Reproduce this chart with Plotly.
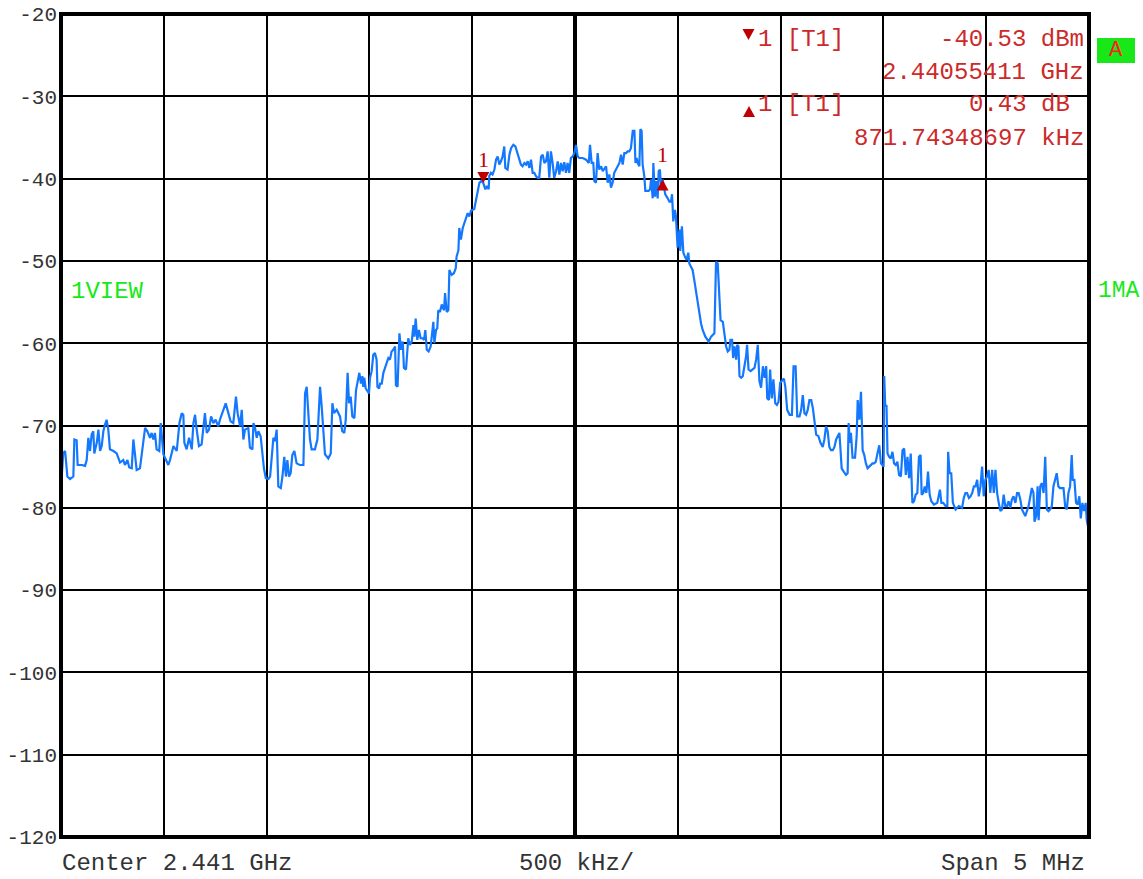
import plotly.graph_objects as go

# ---------------- data ----------------
CENTER_MHZ = 2441.0
SPAN_MHZ = 5.0
DIV_MHZ = 0.5

y_tick_values = [-20, -30, -40, -50, -60, -70, -80, -90, -100, -110, -120]
y_tick_labels = ["-20", "-30", "-40", "-50", "-60", "-70", "-80", "-90", "-100", "-110", "-120"]

# trace points: (offset from centre in kHz, level in dBm)
left_floor = [
    (-2497, -76.4), (-2489, -73.3), (-2480, -73.1), (-2469, -76.2), (-2456, -76.5), (-2440, -76.2),
    (-2435, -71.7), (-2424, -71.8), (-2419, -74.8), (-2399, -74.8), (-2383, -74.9), (-2375, -74.2),
    (-2367, -71.5), (-2359, -73.1), (-2351, -71.1), (-2343, -70.7), (-2338, -73.4), (-2326, -72.1),
    (-2318, -70.5), (-2310, -73.1), (-2302, -72.5), (-2294, -70.7), (-2286, -69.9), (-2278, -69.3),
    (-2270, -70.5), (-2262, -72.9), (-2245, -73.1), (-2229, -73.4), (-2213, -74.5), (-2197, -74.2),
    (-2189, -74.8), (-2177, -74.2), (-2168, -75.1), (-2156, -75.2), (-2148, -71.7), (-2140, -74.0),
    (-2132, -75.4), (-2116, -75.2), (-2104, -72.5), (-2091, -70.3), (-2080, -70.7), (-2067, -71.5),
    (-2059, -70.9), (-2051, -71.7), (-2043, -70.9), (-2035, -72.9), (-2022, -73.1), (-2015, -69.7),
    (-2002, -73.5), (-1986, -74.4), (-1978, -74.8), (-1970, -74.2), (-1953, -72.5), (-1937, -73.1),
    (-1924, -69.7), (-1913, -68.5), (-1905, -68.7), (-1900, -72.1), (-1889, -72.9), (-1877, -71.5),
    (-1864, -72.9), (-1856, -69.7), (-1848, -68.7), (-1840, -70.5), (-1829, -72.5), (-1816, -72.3),
    (-1808, -70.7), (-1800, -68.5), (-1791, -70.9), (-1780, -70.5), (-1770, -68.9), (-1759, -69.7),
    (-1748, -69.3), (-1735, -70.1), (-1727, -69.3), (-1710, -67.9), (-1699, -67.3), (-1686, -68.5),
    (-1675, -69.5), (-1662, -69.7), (-1654, -68.1), (-1649, -66.5), (-1641, -68.5), (-1629, -70.1),
    (-1621, -68.1), (-1613, -71.7), (-1605, -70.5), (-1589, -70.3), (-1581, -72.7), (-1569, -72.9),
    (-1564, -69.7), (-1556, -70.3), (-1548, -71.5), (-1540, -70.7), (-1529, -71.3), (-1521, -73.1),
    (-1513, -75.2), (-1504, -76.4), (-1491, -76.5), (-1483, -76.2), (-1475, -74.2), (-1467, -71.5),
    (-1459, -71.9), (-1451, -70.5), (-1443, -77.4), (-1431, -77.6), (-1423, -76.2), (-1414, -73.8),
    (-1406, -76.2), (-1399, -74.2), (-1391, -76.2), (-1383, -75.8), (-1375, -73.6), (-1365, -73.1),
    (-1354, -74.6), (-1338, -74.8), (-1321, -74.8), (-1313, -66.1), (-1305, -65.3), (-1297, -68.5),
    (-1289, -71.7), (-1281, -72.9), (-1265, -72.9), (-1253, -71.7), (-1240, -65.3), (-1232, -67.7),
    (-1224, -70.9), (-1216, -73.5), (-1200, -74.0), (-1188, -73.4), (-1180, -67.3), (-1172, -68.5),
    (-1159, -68.1), (-1143, -68.9),
]

rising_edge = [
    (-1132, -70.7), (-1122, -70.9), (-1115, -69.3), (-1111, -66.5), (-1106, -63.6), (-1099, -67.3),
    (-1091, -66.5), (-1083, -68.9), (-1073, -69.1), (-1065, -65.7), (-1057, -64.4), (-1049, -63.6),
    (-1041, -64.9), (-1034, -64.0), (-1030, -65.3), (-1025, -64.2), (-1018, -65.5), (-1008, -65.9),
    (-1002, -66.1), (-997, -64.2), (-989, -63.4), (-981, -61.4), (-973, -61.2), (-965, -62.0),
    (-961, -65.3), (-953, -65.5), (-948, -64.9), (-940, -64.9), (-932, -63.6), (-924, -63.0),
    (-916, -62.4), (-908, -61.8), (-900, -62.0), (-892, -61.0), (-884, -60.8), (-875, -60.4),
    (-871, -65.1), (-863, -65.3), (-854, -58.8), (-846, -60.8), (-838, -59.8), (-832, -63.0),
    (-822, -63.2), (-815, -60.2), (-811, -59.4), (-803, -60.2), (-794, -59.8), (-786, -57.8),
    (-781, -59.2), (-775, -57.0), (-767, -59.6), (-759, -58.4), (-751, -59.4), (-741, -59.4),
    (-734, -59.6), (-728, -58.4), (-721, -60.8), (-712, -61.0), (-702, -60.4), (-694, -58.6),
    (-689, -57.4), (-684, -60.0), (-676, -58.4), (-670, -58.2), (-665, -56.0), (-657, -56.2),
    (-648, -55.3), (-637, -56.0), (-632, -53.9), (-624, -56.2), (-616, -56.0), (-611, -51.1),
    (-600, -51.7), (-589, -51.5), (-580, -50.9), (-576, -49.5), (-567, -48.7),
]

main_lobe = [
    (-563, -46.0), (-555, -47.4), (-546, -46.0), (-538, -45.4), (-530, -45.0), (-522, -44.2),
    (-514, -44.6), (-506, -43.9), (-490, -43.7), (-482, -42.6), (-473, -41.3), (-465, -40.5),
    (-456, -40.3), (-446, -40.53), (-436, -41.3), (-428, -40.9), (-420, -41.3), (-417, -39.7),
    (-409, -39.3), (-401, -39.5), (-392, -38.9), (-384, -37.7), (-376, -37.3), (-368, -38.3),
    (-360, -37.9), (-352, -37.3), (-344, -36.1), (-339, -38.7), (-328, -38.9), (-319, -37.1),
    (-311, -36.3), (-300, -35.9), (-290, -36.1), (-279, -36.9), (-271, -37.5), (-263, -38.3),
    (-255, -38.5), (-246, -38.1), (-238, -38.3), (-230, -37.9), (-222, -38.7), (-214, -37.7),
    (-206, -39.3), (-198, -39.3), (-190, -39.7), (-182, -39.9), (-174, -39.9), (-165, -37.3),
    (-157, -37.1), (-149, -38.1), (-141, -37.9), (-133, -36.7), (-125, -39.9), (-117, -36.7),
    (-109, -38.1), (-101, -39.9), (-92, -39.1), (-84, -37.9), (-76, -39.5), (-68, -38.1),
    (-60, -39.1), (-52, -38.0), (-44, -39.3), (-36, -38.1), (-28, -39.3), (-20, -37.5),
    (-11, -37.3), (-3, -36.9), (5, -35.9), (13, -37.3), (21, -37.5), (37, -37.5),
    (54, -37.7), (67, -38.1), (73, -35.9), (81, -38.1), (89, -38.1), (94, -40.3),
    (102, -40.5), (110, -36.9), (118, -38.9), (127, -38.5), (135, -39.1), (143, -38.7),
    (151, -38.5), (159, -40.5), (167, -39.5), (175, -41.1), (183, -40.5), (191, -39.3),
    (199, -38.9), (208, -38.3), (216, -38.1), (224, -37.1), (232, -38.3), (240, -36.9),
    (248, -36.9), (256, -36.7), (264, -36.7), (272, -36.3), (281, -34.2), (289, -34.2),
    (294, -38.1), (300, -37.5), (305, -38.1), (313, -38.5), (318, -34.0), (324, -34.2),
    (329, -38.3), (337, -39.7), (342, -41.5), (350, -41.5), (358, -41.5), (365, -41.3),
    (370, -40.1), (378, -42.4), (381, -38.1), (389, -42.2), (394, -40.3), (402, -42.4),
    (407, -39.1), (413, -38.9), (418, -40.9), (426, -40.10), (439, -41.9), (451, -42.4),
    (459, -42.8), (467, -42.8), (472, -41.9), (478, -45.2), (486, -43.8), (491, -44.6),
    (499, -48.4), (508, -46.2), (512, -48.8), (520, -45.8), (527, -49.0), (535, -49.5),
    (543, -49.9), (551, -49.0), (556, -50.3), (564, -50.7), (572, -51.1), (580, -52.3),
    (589, -53.9), (597, -55.1), (605, -56.3), (613, -57.6), (621, -58.4), (634, -59.2),
    (650, -59.8), (662, -59.2), (678, -58.8), (686, -50.1), (694, -50.3),
]

falling_edge = [
    (708, -57.2), (719, -57.4), (727, -58.8), (735, -60.4), (743, -61.0), (751, -60.8),
    (756, -59.6), (764, -59.6), (769, -61.8), (776, -60.4), (784, -62.0), (789, -60.2),
    (795, -60.4), (800, -64.0), (808, -64.2), (816, -64.0), (824, -62.8), (832, -61.6),
    (837, -60.2), (844, -63.2), (854, -63.4), (865, -63.2), (873, -63.0), (881, -62.0),
    (889, -60.2), (897, -64.6), (905, -65.4), (914, -62.8), (922, -64.2), (930, -62.8),
    (935, -66.7), (943, -66.9), (949, -63.2), (957, -66.7), (965, -64.4), (974, -67.3),
    (982, -67.5), (990, -67.1), (998, -64.8),
]

right_floor = [
    (1016, -64.3), (1023, -65.3), (1032, -68.1), (1044, -68.7), (1055, -68.7), (1063, -62.8),
    (1073, -62.8), (1081, -68.9), (1092, -68.9), (1100, -68.1), (1108, -66.3), (1116, -68.5),
    (1124, -68.7), (1132, -68.1), (1140, -66.9), (1149, -66.9), (1157, -67.9), (1165, -69.5),
    (1173, -71.1), (1184, -71.3), (1194, -72.1), (1205, -72.6), (1213, -71.7), (1221, -70.1),
    (1229, -70.7), (1237, -72.6), (1245, -73.0), (1254, -73.0), (1262, -72.6), (1270, -71.7),
    (1278, -71.3), (1286, -70.9), (1291, -72.8), (1297, -75.2), (1307, -75.6), (1318, -76.0),
    (1326, -75.8), (1331, -69.7), (1337, -72.1), (1342, -70.9), (1350, -73.9), (1362, -73.9),
    (1370, -71.3), (1375, -66.9), (1383, -69.3), (1391, -65.9), (1399, -73.0), (1407, -73.6),
    (1415, -74.6), (1423, -75.2), (1431, -75.0), (1439, -74.8), (1447, -74.6), (1455, -74.6),
    (1463, -74.4), (1471, -73.4), (1480, -72.4), (1488, -74.6), (1496, -74.8), (1501, -75.0),
    (1504, -64.0), (1509, -67.7), (1515, -67.5), (1520, -73.4), (1528, -73.8), (1536, -74.0),
    (1544, -73.2), (1552, -74.6), (1560, -74.8), (1568, -74.4), (1576, -76.0), (1585, -76.2),
    (1593, -73.0), (1601, -72.8), (1609, -76.0), (1617, -73.8), (1625, -76.4), (1633, -73.4),
    (1641, -79.4), (1649, -79.2), (1657, -78.4), (1665, -78.2), (1673, -73.8), (1681, -73.6),
    (1686, -78.4), (1694, -78.2), (1701, -77.4), (1709, -78.2), (1717, -75.6), (1725, -78.4),
    (1733, -79.2), (1746, -79.6), (1762, -79.4), (1770, -78.2), (1775, -77.8), (1782, -79.4),
    (1791, -79.4), (1803, -79.8), (1811, -79.8), (1815, -73.2), (1822, -75.8), (1830, -75.8),
    (1838, -79.4), (1851, -80.2), (1867, -79.8), (1883, -80.0), (1891, -78.8), (1899, -78.2),
    (1907, -78.2), (1916, -78.8), (1924, -78.6), (1932, -78.2), (1940, -77.4), (1948, -77.4),
    (1956, -76.6), (1964, -78.6), (1972, -77.4), (1980, -75.0), (1988, -78.6), (1996, -76.6),
    (2004, -76.2), (2012, -75.4), (2020, -78.2), (2029, -75.4), (2037, -78.2), (2045, -75.4),
    (2053, -78.2), (2061, -79.4), (2069, -80.4), (2077, -80.2), (2085, -78.4), (2093, -79.8),
    (2101, -79.8), (2109, -79.2), (2117, -80.0), (2125, -79.0), (2133, -78.6), (2142, -79.4),
    (2150, -78.2), (2158, -78.2), (2166, -79.0), (2174, -80.2), (2190, -81.0), (2206, -79.8),
    (2214, -78.4), (2222, -77.6), (2230, -78.2), (2235, -81.7), (2243, -81.0), (2250, -77.4),
    (2255, -81.5), (2263, -77.4), (2271, -77.0), (2279, -78.2), (2287, -73.8), (2295, -80.2),
    (2303, -80.4), (2311, -80.2), (2319, -79.8), (2327, -77.4), (2335, -76.6), (2343, -75.8),
    (2351, -77.4), (2359, -77.6), (2368, -77.6), (2376, -77.6), (2384, -79.8), (2392, -80.2),
    (2400, -78.2), (2408, -77.4), (2416, -73.6), (2421, -76.6), (2429, -76.6), (2437, -79.4),
    (2445, -79.6), (2453, -78.6), (2460, -81.3), (2468, -79.4), (2476, -80.4), (2484, -79.4),
    (2489, -81.5), (2497, -82.5),
]

# markers
marker1_ghz = 2.44055411
marker1_dbm = -40.53
delta_khz = 871.74348697
delta_db = 0.43

info_lines = {
    "m1_label": "1 [T1]",
    "m1_level": "-40.53 dBm",
    "m1_freq": "2.44055411 GHz",
    "d_label": "1 [T1]",
    "d_level": "0.43 dB",
    "d_freq": "871.74348697 kHz",
}
footer_left = "Center 2.441 GHz"
footer_mid = "500 kHz/"
footer_right = "Span 5 MHz"

# ---------------- figure ----------------
points = left_floor + rising_edge + main_lobe + falling_edge + right_floor
freq_mhz = [CENTER_MHZ + f / 1000.0 for f, _ in points]
level = [v for _, v in points]

m1_x = marker1_ghz * 1000.0
d_x = m1_x + delta_khz / 1000.0
d_y = marker1_dbm + delta_db

W, H = 1143, 879
ML, MR, MT, MB = 61, 54, 14, 42
PW, PH = W - ML - MR, H - MT - MB
LEFT_PX = ML
BOTTOM_PX = H - MB


def px(xp):
    return (xp - LEFT_PX) / PW


def py(yp):
    return (BOTTOM_PX - yp) / PH


MONO = "Liberation Mono, DejaVu Sans Mono, monospace"
RED_TXT = "#cc2a2a"
MARK_RED = "#c00000"
GREEN = "#18e818"
GRAY = "#333333"

fig = go.Figure()
fig.add_trace(go.Scatter(x=freq_mhz, y=level, mode="lines",
                         line=dict(color="#1478ff", width=2.2), hoverinfo="skip"))

x0 = CENTER_MHZ - SPAN_MHZ / 2
x1 = CENTER_MHZ + SPAN_MHZ / 2
fig.update_layout(
    template="none",
    width=W, height=H, margin=dict(l=ML, r=MR, t=MT, b=MB, pad=0),
    plot_bgcolor="white", paper_bgcolor="white", showlegend=False,
    xaxis=dict(range=[x0, x1], tick0=x0, dtick=DIV_MHZ, showgrid=True,
               gridcolor="black", gridwidth=2, showticklabels=False,
               zeroline=False, showline=False, ticks="", automargin=False),
    yaxis=dict(range=[-120, -20], tickvals=y_tick_values, ticktext=y_tick_labels,
               showgrid=True, gridcolor="black", gridwidth=2, zeroline=False,
               showline=False, ticks="", ticklabelstandoff=3, automargin=False,
               ticklabeloverflow="allow",
               tickfont=dict(family=MONO, size=21, color=GRAY)),
)

shapes = []
# centre line (thick)
shapes.append(dict(type="line", xref="x", yref="paper", x0=CENTER_MHZ, x1=CENTER_MHZ,
                   y0=0, y1=1, line=dict(color="black", width=4), layer="between"))
# frame
shapes.append(dict(type="rect", xref="paper", yref="paper", x0=0, x1=1, y0=0, y1=1,
                   line=dict(color="black", width=4), layer="above"))
# marker triangles on trace
shapes.append(dict(type="path", xref="x", yref="y", xsizemode="pixel", ysizemode="pixel",
                   xanchor=m1_x, yanchor=marker1_dbm, path="M -6,11 L 6,11 L 0,0 Z",
                   fillcolor=MARK_RED, line=dict(width=0), layer="above"))
shapes.append(dict(type="path", xref="x", yref="y", xsizemode="pixel", ysizemode="pixel",
                   xanchor=d_x, yanchor=d_y, path="M -6,-11 L 6,-11 L 0,0 Z",
                   fillcolor=MARK_RED, line=dict(width=0), layer="above"))
# triangles in marker info block
shapes.append(dict(type="path", xref="paper", yref="paper", xsizemode="pixel", ysizemode="pixel",
                   xanchor=px(748.5), yanchor=py(29), path="M -6,0 L 6,0 L 0,-11 Z",
                   fillcolor=MARK_RED, line=dict(width=0)))
shapes.append(dict(type="path", xref="paper", yref="paper", xsizemode="pixel", ysizemode="pixel",
                   xanchor=px(749), yanchor=py(117), path="M -6,0 L 6,0 L 0,11 Z",
                   fillcolor=MARK_RED, line=dict(width=0)))
# green "A" box
shapes.append(dict(type="rect", xref="paper", yref="paper", x0=px(1097), x1=px(1135),
                   y0=py(63), y1=py(38), fillcolor=GREEN, line=dict(width=0)))
fig.update_layout(shapes=shapes)


def txt(text, x, y, xanchor, color, size=24, family=MONO, yanchor="middle"):
    fig.add_annotation(text=text, x=px(x), y=py(y), xref="paper", yref="paper",
                       xanchor=xanchor, yanchor=yanchor, showarrow=False,
                       font=dict(family=family, size=size, color=color))


txt(info_lines["m1_label"], 756, 39, "left", RED_TXT)
txt(info_lines["m1_level"], 1086, 39, "right", RED_TXT)
txt(info_lines["m1_freq"], 1086, 72.5, "right", RED_TXT)
txt(info_lines["d_label"], 756, 104.5, "left", RED_TXT)
txt(info_lines["d_level"], 1072, 104.5, "right", RED_TXT)
txt(info_lines["d_freq"], 1086, 138.5, "right", RED_TXT)

txt("A", 1116, 50.5, "center", "#ff2020", size=22)
txt("1VIEW", 69, 291, "left", GREEN)
txt("1MA", 1096, 291, "left", GREEN, size=23)

txt(footer_left, 60, 863, "left", GRAY)
txt(footer_mid, 576, 863, "center", GRAY)
txt(footer_right, 1087, 863, "right", GRAY)

# marker number labels above the trace markers
fig.add_annotation(text="1", x=m1_x, y=marker1_dbm, xref="x", yref="y", yshift=23,
                   showarrow=False, font=dict(family="Liberation Serif, serif", size=22, color=MARK_RED))
fig.add_annotation(text="1", x=d_x, y=d_y, xref="x", yref="y", yshift=25,
                   showarrow=False, font=dict(family="Liberation Serif, serif", size=22, color=MARK_RED))

# remove the browser's default body margin so the figure sits at the page origin
fig.write_html("out.html", config={"displayModeBar": False},
               post_script="document.body.style.margin='0';")
